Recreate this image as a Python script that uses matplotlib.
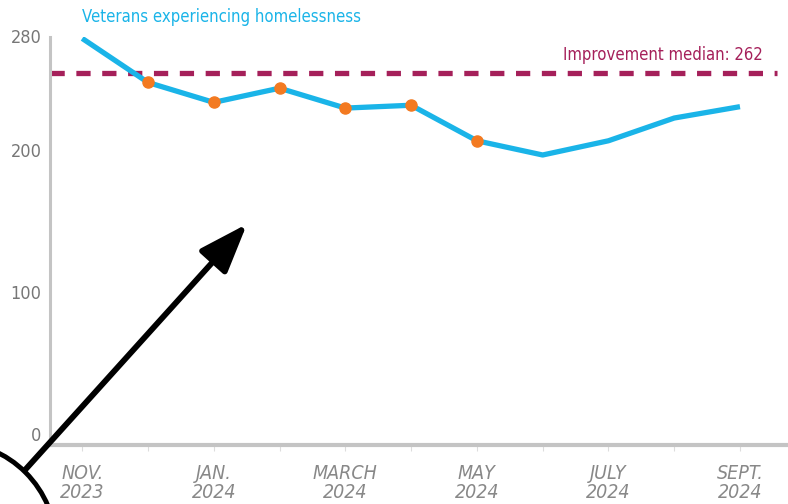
import matplotlib.pyplot as plt
from matplotlib.patches import Arc, FancyArrowPatch

# data
months = ["NOV.\n2023", "", "JAN.\n2024", "", "MARCH\n2024", "", "MAY\n2024", "",
          "JULY\n2024", "", "SEPT.\n2024"]
veterans = [286, 255, 241, 251, 237, 239, 214, 204, 214, 230, 238]
flagged = [1, 2, 3, 4, 5, 6]  # points marked in orange
median_value = 262

plt.rcParams["font.family"] = ["DejaVu Sans"]
plt.rcParams["font.stretch"] = "condensed"

W, H = 788, 504
fig = plt.figure(figsize=(W / 100, H / 100), dpi=100)
ax = fig.add_axes([50 / W, (H - 445) / H, (W - 50) / W, (445 - 37) / H])

x = list(range(len(veterans)))
ax.plot(x, veterans, color="#1ab4e8", linewidth=3.8, solid_capstyle="butt", zorder=3)
ax.plot([x[i] for i in flagged], [veterans[i] for i in flagged], "o",
        color="#f37a21", markersize=8, zorder=4)

ax.axhline(median_value, xmin=0, xmax=0.985, color="#a5205a", linewidth=3.8,
           dashes=(2.7, 2.2), zorder=2)
ax.text(10.35, median_value + 6, f"Improvement median: {median_value}",
        color="#a5205a", fontsize=12, ha="right", va="bottom")

ax.set_xlim(-0.49, 10.73)
ax.set_ylim(0, 287)

for s in ["top", "right"]:
    ax.spines[s].set_visible(False)
ax.spines["left"].set_color("#c4c4c4")
ax.spines["bottom"].set_color("#c4c4c4")
ax.spines["left"].set_linewidth(2.2)
ax.spines["bottom"].set_linewidth(3)

ax.set_yticks([0, 100, 200, 280])
ax.set_yticklabels(["0", "100", "200", "280"], fontsize=13, color="#777777",
                   va="bottom")
ax.tick_params(axis="y", length=0, pad=6)

ax.set_xticks(x)
ax.set_xticklabels(months, fontsize=14, color="#888888", linespacing=1.0,
                   style="italic")
ax.tick_params(axis="x", length=4, color="#dddddd", pad=10)

fig.text(82 / W, (H - 17) / H, "Veterans experiencing homelessness",
         color="#1ab4e8", fontsize=12, ha="left", va="center")

# annotation arrow and circle in the lower-left corner
arrow = FancyArrowPatch((25, H - 470), (247, H - 224), transform=None,
                        arrowstyle="-|>,head_length=30,head_width=11",
                        linewidth=4.2, color="black", mutation_scale=1,
                        shrinkA=0, shrinkB=0)
fig.patches.append(arrow)
arc = Arc((-48, H - 546), 208, 208, theta1=0, theta2=90, transform=None,
          color="black", linewidth=3.5)
fig.patches.append(arc)

fig.savefig("out.png", dpi=100)
